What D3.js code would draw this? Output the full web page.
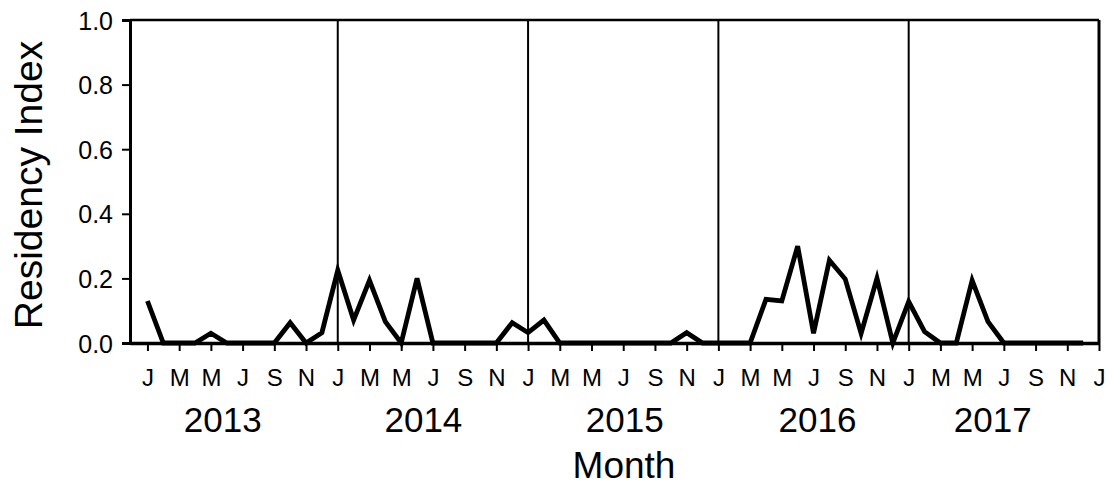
<!DOCTYPE html>
<html><head><meta charset="utf-8">
<script src="https://cdn.jsdelivr.net/npm/d3@7"></script>
<style>html,body{margin:0;padding:0;background:#fff;}svg{display:block;}text{font-family:"Liberation Sans",Arial,sans-serif;fill:#000;}</style>
</head><body>
<svg id="c" width="1112" height="486"></svg>
<script>
const years = ["2013","2014","2015","2016","2017"];
const monthTickLabels = ["J","M","M","J","S","N"];
const yTicks = [0,0.2,0.4,0.6,0.8,1.0];
const ri2013 = [0.13,0,0,0,0.03,0,0,0,0,0.063,0,0.032];
const ri2014 = [0.225,0.071,0.194,0.066,0,0.2,0,0,0,0,0,0.063];
const ri2015 = [0.032,0.071,0,0,0,0,0,0,0,0,0.032,0];
const ri2016 = [0,0,0,0.135,0.13,0.30,0.03,0.256,0.198,0.03,0.2,0];
const ri2017 = [0.128,0.035,0,0,0.194,0.066,0,0,0,0,0,0];
const yearLabelOffsets = [4.75,5.4,6.1,6.25,5.3];

const series = [ri2013,ri2014,ri2015,ri2016,ri2017].flat().map((v,i)=>({m:i,v}));
const svg = d3.select("#c");
const x = d3.scaleLinear().domain([-1.1,60]).range([130,1099]);
const y = d3.scaleLinear().domain([0,1]).range([343,20]);

// frame
svg.append("line").attr("x1",x(-1.1)).attr("x2",x(60)).attr("y1",y(1)).attr("y2",y(1)).attr("stroke","#000").attr("stroke-width",2.5);
svg.append("line").attr("x1",x(60)).attr("x2",x(60)).attr("y1",y(1)).attr("y2",y(0)).attr("stroke","#000").attr("stroke-width",3);

// year separators
[12,24,36,48].forEach(m=>{
  svg.append("line").attr("x1",x(m)).attr("x2",x(m)).attr("y1",y(1)).attr("y2",y(0)).attr("stroke","#000").attr("stroke-width",2);
});

// data line
const line = d3.line().x(d=>x(d.m)).y(d=>y(d.v));
svg.append("path").datum(series).attr("d",line).attr("fill","none").attr("stroke","#000").attr("stroke-width",4.8).attr("stroke-linejoin","miter");

// y axis
const ya = svg.append("g").attr("transform",`translate(${x(-1.1)},0)`)
  .call(d3.axisLeft(y).tickValues(yTicks).tickFormat(d3.format(".1f")).tickSize(8).tickPadding(9));
ya.select(".domain").attr("stroke-width",3);
ya.selectAll(".tick line").attr("stroke-width",2);
ya.selectAll(".tick text").style("font-size","25px").attr("dy","0.36em");

// x axis
const xt = d3.range(0,61,2);
const xa = svg.append("g").attr("transform",`translate(0,${y(0)})`)
  .call(d3.axisBottom(x).tickValues(xt).tickFormat((d,i)=>monthTickLabels[i%6]).tickSize(8).tickSizeOuter(0).tickPadding(18));
xa.select(".domain").attr("stroke-width",3.5);
xa.selectAll(".tick line").attr("stroke-width",2);
xa.selectAll(".tick text").style("font-size","24px").attr("dy","0.71em");

// year labels
svg.selectAll(".yr").data(years).enter().append("text")
  .attr("x",(d,i)=>x(i*12+yearLabelOffsets[i])).attr("y",432)
  .attr("text-anchor","middle").style("font-size","35px").text(d=>d);

// axis titles
svg.append("text").attr("x",624).attr("y",478).attr("text-anchor","middle").style("font-size","37px").text("Month");
svg.append("text").attr("transform","translate(42,185) rotate(-90)").attr("text-anchor","middle").style("font-size","39px").text("Residency Index");
</script>
</body></html>
